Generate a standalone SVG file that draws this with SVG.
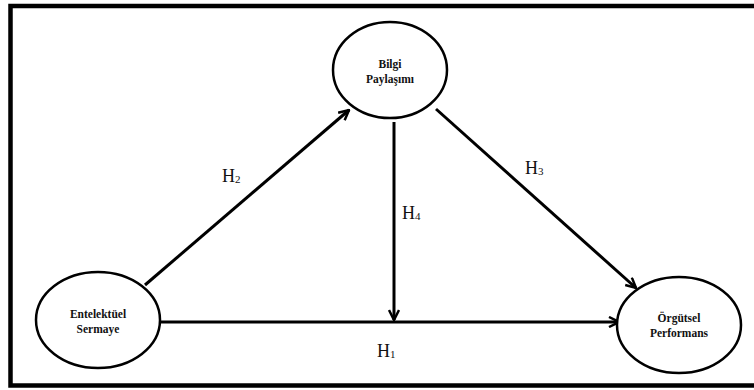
<svg xmlns="http://www.w3.org/2000/svg" width="754" height="390" viewBox="0 0 754 390">
<defs>
<style>
.node ellipse{fill:#fff;stroke:#000;stroke-width:2.5}
.node text{font-family:"Liberation Serif",serif;font-weight:bold;font-size:11.5px;fill:#111;text-anchor:middle}
.edge{stroke:#000;stroke-width:3;fill:none;marker-end:url(#arr)}
.lbl{font-family:"Liberation Serif",serif;font-size:18px;fill:#111}
.sub{font-size:11px}
</style>
<marker id="arr" viewBox="0 0 12 12" refX="11" refY="6" markerWidth="12" markerHeight="12" markerUnits="userSpaceOnUse" orient="auto">
<path d="M1,1 L11,6 L1,11" fill="none" stroke="#000" stroke-width="2.5"/>
</marker>
</defs>
<rect x="0" y="0" width="754" height="390" fill="#fff"/>
<rect x="10.5" y="6" width="760" height="379.5" fill="none" stroke="#000" stroke-width="4.5"/>
<g id="connectors">
<line class="edge" x1="145" y1="285" x2="349" y2="110"/>
<line class="edge" x1="394" y1="122" x2="394" y2="320"/>
<line class="edge" x1="436" y1="109" x2="636" y2="288"/>
<line class="edge" x1="160" y1="322" x2="619" y2="322"/>
</g>
<g id="labels">
<text class="lbl" x="222" y="182">H<tspan class="sub" dy="1">2</tspan></text>
<text class="lbl" x="402" y="219">H<tspan class="sub" dy="1">4</tspan></text>
<text class="lbl" x="525" y="174">H<tspan class="sub" dy="1">3</tspan></text>
<text class="lbl" x="377" y="357">H<tspan class="sub" dy="1">1</tspan></text>
</g>
<g id="bilgi" class="node">
<ellipse cx="390" cy="70" rx="57" ry="48"/>
<text x="390" y="68">Bilgi</text>
<text x="390" y="83">Paylaşımı</text>
</g>
<g id="entelektuel" class="node">
<ellipse cx="98" cy="320" rx="62" ry="48"/>
<text x="98" y="318">Entelektüel</text>
<text x="98" y="333">Sermaye</text>
</g>
<g id="orgutsel" class="node">
<ellipse cx="679" cy="325" rx="62" ry="48"/>
<text x="679" y="322">Örgütsel</text>
<text x="679" y="337">Performans</text>
</g>
</svg>
